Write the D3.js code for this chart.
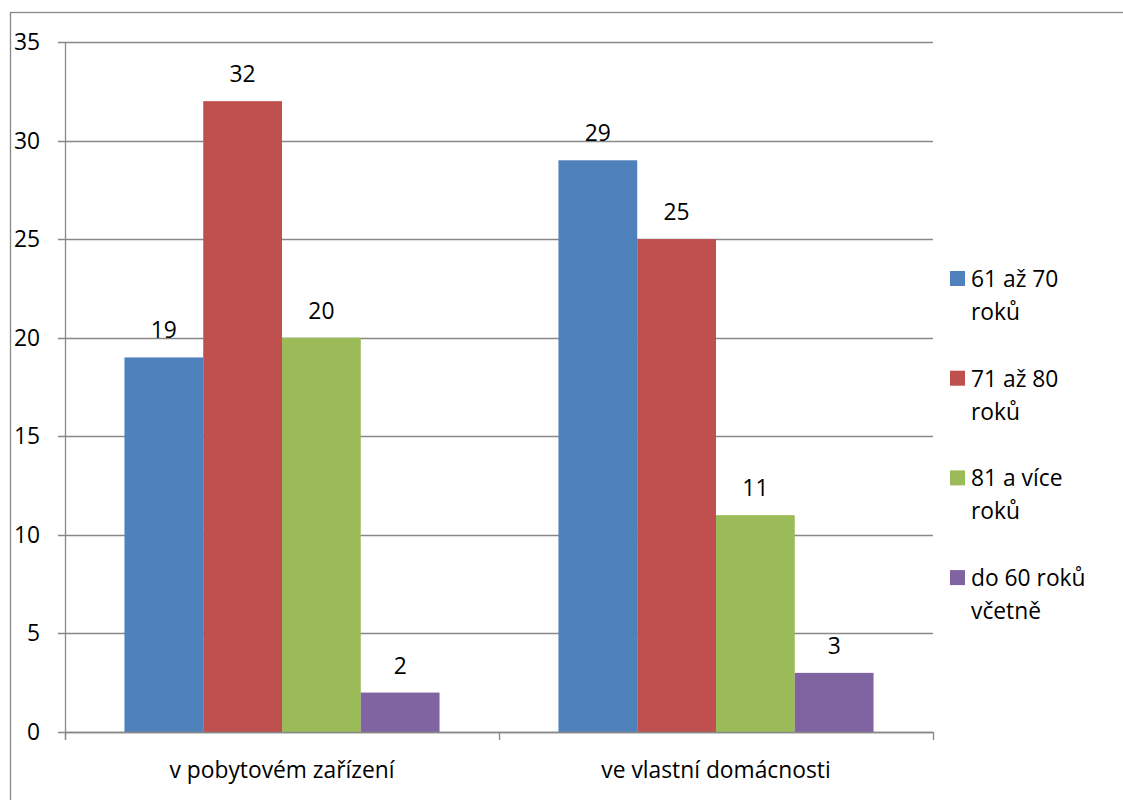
<!DOCTYPE html>
<html><head><meta charset="utf-8">
<script src="https://cdn.jsdelivr.net/npm/d3@7"></script>
<style>body{margin:0;background:#fff}svg{display:block}text{font-family:"Open Sans",sans-serif;fill:#000}</style>
</head><body>
<script>
const categories = ["v pobytovém zařízení", "ve vlastní domácnosti"];
const seriesNames = ["61 až 70 roků", "71 až 80 roků", "81 a více roků", "do 60 roků včetně"];
const legendLines = [["61 až 70", "roků"], ["71 až 80", "roků"], ["81 a více", "roků"], ["do 60 roků", "včetně"]];
const values = [[19, 29], [32, 25], [20, 11], [2, 3]];
const colors = ["#4F81BD", "#C0504D", "#9BBB59", "#8064A2"];
const yTicks = [0, 5, 10, 15, 20, 25, 30, 35];

(function () {
const W = 1123, H = 800, FS = 22.8;
const svg = d3.select("body").append("svg").attr("width", W).attr("height", H);
svg.append("rect").attr("x", 10.5).attr("y", 12.5).attr("width", W + 10).attr("height", H + 10)
  .attr("fill", "none").attr("stroke", "#888").attr("stroke-width", 1.3);

const pL = 65, pR = 933, pT = 42, pB = 732;
const y = d3.scaleLinear().domain([0, 35]).range([pB, pT]);
const x0 = d3.scaleBand().domain(categories).range([pL, pR]).paddingInner(0).paddingOuter(0);
const inner = x0.bandwidth() * 0.726;
const x1 = d3.scaleBand().domain(d3.range(seriesNames.length)).range([(x0.bandwidth() - inner) / 2, (x0.bandwidth() + inner) / 2]);

const grid = svg.append("g");
yTicks.forEach(t => {
  grid.append("line").attr("x1", pL - 7).attr("x2", pR).attr("y1", Math.round(y(t)) + 0.5).attr("y2", Math.round(y(t)) + 0.5)
    .attr("stroke", "#888").attr("stroke-width", 1.3);
  svg.append("text").attr("x", 40).attr("y", y(t)).attr("dy", "0.35em").attr("text-anchor", "end")
    .attr("font-size", FS).text(t);
});
svg.append("line").attr("x1", pL + 0.5).attr("x2", pL + 0.5).attr("y1", pT).attr("y2", pB + 8)
  .attr("stroke", "#888").attr("stroke-width", 1.3);

const gr = svg.append("g").selectAll("g").data(categories).join("g")
  .attr("transform", c => `translate(${x0(c)},0)`);
gr.each(function(c, ci) {
  const g = d3.select(this);
  seriesNames.forEach((s, si) => {
    const v = values[si][ci];
    g.append("rect").attr("x", x1(si)).attr("width", x1.bandwidth()).attr("y", y(v)).attr("height", y(0) - y(v))
      .attr("fill", colors[si]);
    g.append("text").attr("x", x1(si) + x1.bandwidth() / 2).attr("y", y(v) - 19).attr("text-anchor", "middle")
      .attr("font-size", FS).text(v);
  });
  g.append("text").attr("x", x0.bandwidth() / 2).attr("y", 778).attr("text-anchor", "middle")
    .attr("font-size", FS).text(c);
});
svg.append("line").attr("x1", pL).attr("x2", pR).attr("y1", pB + 0.5).attr("y2", pB + 0.5)
  .attr("stroke", "#888").attr("stroke-width", 1.3);
[pL, x0(categories[1]), pR].forEach(px => {
  svg.append("line").attr("x1", Math.round(px) + 0.5).attr("x2", Math.round(px) + 0.5).attr("y1", pB).attr("y2", pB + 8)
    .attr("stroke", "#888").attr("stroke-width", 1.3);
});

const lg = svg.append("g");
seriesNames.forEach((s, i) => {
  const ly = 271 + i * 99.7;
  lg.append("rect").attr("x", 950).attr("y", ly).attr("width", 15).attr("height", 15).attr("fill", colors[i]);
  legendLines[i].forEach((ln, j) => {
    lg.append("text").attr("x", 971).attr("y", ly + 16 + j * 33).attr("font-size", FS).text(ln);
  });
});
})();
</script>
</body></html>
